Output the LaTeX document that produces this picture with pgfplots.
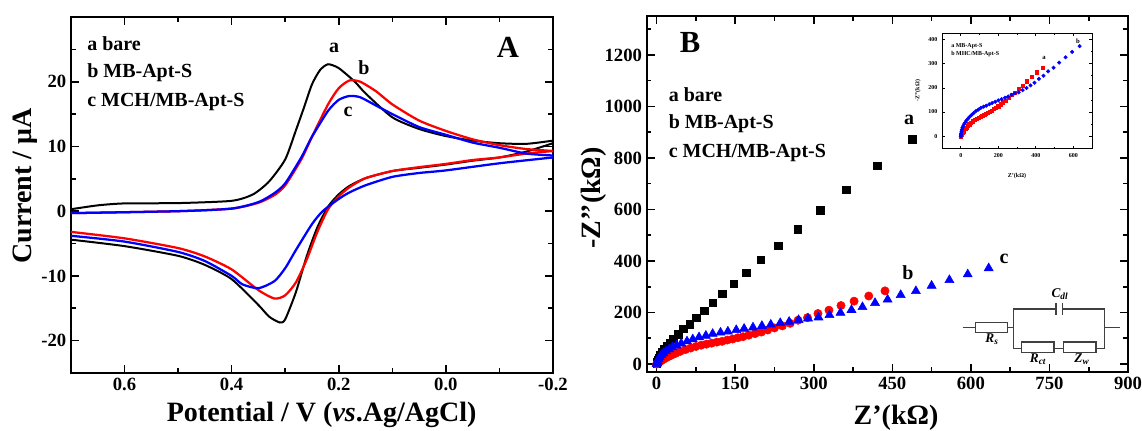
\documentclass[border=0pt]{standalone}
\usepackage{fontspec}
\setmainfont{Liberation Serif}
\usepackage{pgfplots}
\usepackage{pgfplotstable}
\pgfplotsset{compat=1.18}
\definecolor{myred}{RGB}{255,0,0}
\definecolor{myblue}{RGB}{0,0,255}
\pgfplotstableread{
x y
488 873
421 770
362 676
312 596
269 523
232 460
199 404
171 354
147 311
125 272
107 237
91 207
76 180
63 155
51 136
41 115
32 98
25 83
19 70
14 58
10 45
7 34
5 25
3 16
1.5 8
0.5 2
}\tblack
\pgfplotstableread{
x y
436 284
405 264
377 244
352 227
329 209
308 196
288 180
270 170
255 158
240 148
225 140
212 132
200 124
188 118
176 112
165 106
155 102
145 97
135 93
125 88
115 85
105 81
95 77
85 73
75 68
65 62
55 56
45 49
37 42
30 36
24 30
18 24
13 18
9 13
5 8
2 3
0 0
}\tred
\pgfplotstableread{
x y
634 372
594 348
559 326
525 304
495 283
466 268
441 250
417 237
393 221
372 210
351 199
330 190
309 181
289 177
271 171
253 164
236 159
218 153
201 148
184 142
167 137
152 132
136 126
122 122
107 117
94 110
81 104
69 96
58 88
47 80
38 72
30 65
24 57
18 50
13 42
9 35
6 27
4 20
2 12
1 5
0 0
}\tblue
\pgfplotsset{
  panel/.style={
    scale only axis,
    axis line style={line width=1.6pt},
    tick style={line width=1.2pt,black},
    major tick length=6pt,
    minor tick length=3.5pt,
    tick align=inside,
    xtick pos=both, ytick pos=both,
    tick label style={font=\fontsize{14}{14}\bfseries\selectfont},
    /pgf/number format/assume math mode=true,
    /pgf/number format/1000 sep={},
    label style={font=\fontsize{21}{21}\bfseries\selectfont},
    clip=true,
  }
}
\newcommand{\lab}[1]{\fontsize{#1}{#1}\bfseries\selectfont}
\begin{document}
\begin{tikzpicture}
\useasboundingbox (0,0) rectangle (856.5pt,323.25pt);
% Panel A
\begin{axis}[panel,
  at={(53.25pt,43.5pt)},anchor=south west,width=361.5pt,height=267pt,
  x dir=reverse,xmin=-0.2,xmax=0.7,ymin=-25,ymax=30,
  xtick={-0.2,0,0.2,0.4,0.6},minor xtick={-0.1,0.1,0.3,0.5},
  ytick={-20,-10,0,10,20},minor ytick={-25,-15,-5,5,15,25},
  xticklabel style={/pgf/number format/fixed,/pgf/number format/fixed zerofill,/pgf/number format/precision=1},
  xlabel={Potential / V (\textit{vs}.Ag/AgCl)},
  ylabel={Current / μA},
  xlabel style={at={(axis description cs:0.52,-0.118)},anchor=center},
  ylabel style={at={(axis description cs:-0.095,0.525)},anchor=center},
]
\addplot[black,line width=1.5pt,smooth,tension=0.4] coordinates {
(0.7,0.3)(0.65,0.9)(0.6,1.2)(0.5,1.25)(0.4,1.6)(0.36,2.6)(0.33,4.6)(0.30,8)(0.28,12.5)(0.265,16)(0.25,19.6)(0.235,21.8)(0.22,22.7)(0.2,22.1)(0.17,20)(0.15,18.2)(0.1,14.5)(0.05,12.7)(0,11.6)(-0.05,10.9)(-0.1,10.5)(-0.15,10.4)(-0.2,10.9)};
\addplot[black,line width=1.5pt,smooth,tension=0.4] coordinates {
(-0.2,10.5)(-0.15,9.2)(-0.1,8.3)(-0.05,7.8)(0,7.2)(0.05,6.7)(0.1,6.2)(0.15,5.1)(0.18,3.9)(0.2,2.6)(0.22,0.7)(0.24,-2.5)(0.26,-7)(0.28,-12.5)(0.3,-16.7)(0.31,-17.2)(0.33,-16.3)(0.35,-14.5)(0.4,-10.5)(0.45,-8.3)(0.5,-6.9)(0.6,-5.4)(0.7,-4.4)};
\addplot[myred,line width=1.7pt,smooth,tension=0.4] coordinates {
(0.7,-0.3)(0.5,0)(0.4,0.4)(0.35,1.3)(0.32,2.5)(0.3,4)(0.27,8)(0.25,11.5)(0.22,16.5)(0.2,19)(0.18,20.2)(0.16,20)(0.13,18.5)(0.1,16.5)(0.05,14)(0,12.4)(-0.05,11.1)(-0.1,10.2)(-0.15,9.6)(-0.2,9.3)};
\addplot[myred,line width=1.7pt,smooth,tension=0.4] coordinates {
(-0.2,9.3)(-0.15,8.9)(-0.1,8.3)(-0.05,7.9)(0,7.3)(0.05,6.8)(0.1,6.2)(0.15,5.1)(0.18,3.7)(0.2,2.3)(0.22,0.3)(0.24,-3.2)(0.26,-7.5)(0.28,-11)(0.3,-13)(0.32,-13.5)(0.35,-12.2)(0.4,-9)(0.45,-7)(0.5,-5.7)(0.6,-4.2)(0.7,-3.2)};
\addplot[myblue,line width=1.7pt,smooth,tension=0.4] coordinates {
(0.7,-0.3)(0.5,0)(0.4,0.4)(0.35,1.4)(0.32,2.8)(0.3,4.3)(0.27,8.3)(0.25,11.5)(0.22,15.5)(0.2,17.2)(0.18,17.8)(0.16,17.6)(0.13,16.3)(0.1,15)(0.05,13)(0,11.8)(-0.05,10.6)(-0.1,9.8)(-0.15,8.9)(-0.2,8.6)};
\addplot[myblue,line width=1.7pt,smooth,tension=0.4] coordinates {
(-0.2,8.3)(-0.1,7.4)(0,6.3)(0.05,5.9)(0.1,5.3)(0.15,4)(0.18,2.9)(0.2,1.9)(0.23,0)(0.25,-2)(0.28,-6)(0.3,-8.8)(0.32,-10.8)(0.35,-11.9)(0.38,-11.3)(0.4,-10)(0.45,-7.7)(0.5,-6.3)(0.6,-4.7)(0.7,-3.8)};
\end{axis}
% Panel B
\begin{axis}[panel,
  at={(485pt,44.25pt)},anchor=south west,width=361pt,height=267pt,
  xmin=-19,xmax=900,ymin=-31,ymax=1351,
  xtick={0,150,...,900},minor xtick={75,225,...,825},
  ytick={0,200,...,1200},minor ytick={100,300,...,1300},
  xlabel={Z'(kΩ)},
  ylabel={-Z’’(kΩ)},
  xlabel style={at={(axis description cs:0.518,-0.129)},anchor=center},
  ylabel style={at={(axis description cs:-0.109,0.489)},anchor=center},
]
\addplot[only marks,mark=square*,mark size=2.8pt,black] table[x=x,y=y] {\tblack};
\addplot[only marks,mark=*,mark size=3.1pt,myred] table[x=x,y=y] {\tred};
\addplot[only marks,mark=triangle*,mark size=3.9pt,myblue] table[x=x,y=y] {\tblue};
\end{axis}
% Inset
\begin{axis}[panel,
  at={(706.5pt,212pt)},anchor=south west,width=112.5pt,height=86.25pt,
  axis line style={line width=0.6pt},
  tick style={line width=0.4pt,black},
  major tick length=2pt,minor tick length=1pt,
  xmin=-100,xmax=700,ymin=-50,ymax=425,
  xtick={0,200,400,600},minor xtick={-100,100,300,500,700},
  ytick={0,100,...,400},minor ytick={50,150,250,350},
  tick label style={font=\fontsize{4.5}{4.5}\bfseries\selectfont},
  label style={font=\fontsize{4.5}{4.5}\bfseries\selectfont},
  xlabel={Z'(kΩ)},ylabel={-Z’’(kΩ)},
  xlabel style={at={(axis description cs:0.5,-0.24)},anchor=center},
  ylabel style={at={(axis description cs:-0.16,0.5)},anchor=center},
]
\addplot[only marks,mark=square*,mark size=1.2pt,myred] table[x=x,y=y] {\tred};
\addplot[only marks,mark=*,mark size=1.3pt,myblue] table[x=x,y=y] {\tblue};
\end{axis}
% Annotations in pixel coordinates
\begin{scope}[shift={(0,323.25pt)},x=0.75pt,y=-0.75pt]
\node[anchor=west,inner sep=0] at (87,44) {\lab{15}a bare};
\node[anchor=west,inner sep=0] at (87,73) {\lab{15}b MB-Apt-S};
\node[anchor=west,inner sep=0] at (87,102) {\lab{15}c MCH/MB-Apt-S};
\node[inner sep=0] at (334,48) {\lab{15}a};
\node[inner sep=0] at (364,68) {\lab{15}b};
\node[inner sep=0] at (348,112) {\lab{15}c};
\node[inner sep=0] at (508,47) {\lab{23}A};
\node[inner sep=0] at (690,43) {\lab{23}B};
\node[anchor=west,inner sep=0] at (668.5,95) {\lab{15}a bare};
\node[anchor=west,inner sep=0] at (668.5,124) {\lab{15}b MB-Apt-S};
\node[anchor=west,inner sep=0] at (668.5,153) {\lab{15}c MCH/MB-Apt-S};
\node[inner sep=0] at (909,120) {\lab{15}a};
\node[inner sep=0] at (908,273) {\lab{15}b};
\node[inner sep=0] at (1004,259) {\lab{15}c};
% inset text
\node[anchor=west,inner sep=0] at (951,46) {\lab{4.5}a MB-Apt-S};
\node[anchor=west,inner sep=0] at (951,54) {\lab{4.5}b MHC/MB-Apt-S};
\node[inner sep=0] at (1044,58) {\lab{5}a};
\node[inner sep=0] at (1078,41) {\lab{5}b};
% circuit
\begin{scope}[draw=black!75,line width=0.8pt]
\draw (962.7,327.7) -- (975.7,327.7);
\draw (975.7,322.7) rectangle (1007.3,332.7);
\draw (1007.3,327.7) -- (1013.3,327.7);
\draw (1056,309) -- (1013.3,309) -- (1013.3,348.3) -- (1021.7,348.3);
\draw (1021.7,342) rectangle (1054,352.3);
\draw (1054,348.3) -- (1063.3,348.3);
\draw (1063.3,342) rectangle (1096,352.3);
\draw (1096,348.3) -- (1104.3,348.3) -- (1104.3,309) -- (1062.7,309);
\draw (1056,302.7) -- (1056,315.3);
\draw (1062.7,302.7) -- (1062.7,315.3);
\draw (1104.3,327.7) -- (1120,327.7);
\end{scope}
\node[inner sep=0] at (1060,294) {\lab{10}\textit{C\textsubscript{dl}}};
\node[inner sep=0] at (992,339) {\lab{10}\textit{R\textsubscript{s}}};
\node[inner sep=0] at (1038,359) {\lab{10}\textit{R\textsubscript{ct}}};
\node[inner sep=0] at (1082,359) {\lab{10}\textit{Z\textsubscript{w}}};
\end{scope}
\end{tikzpicture}
\end{document}
